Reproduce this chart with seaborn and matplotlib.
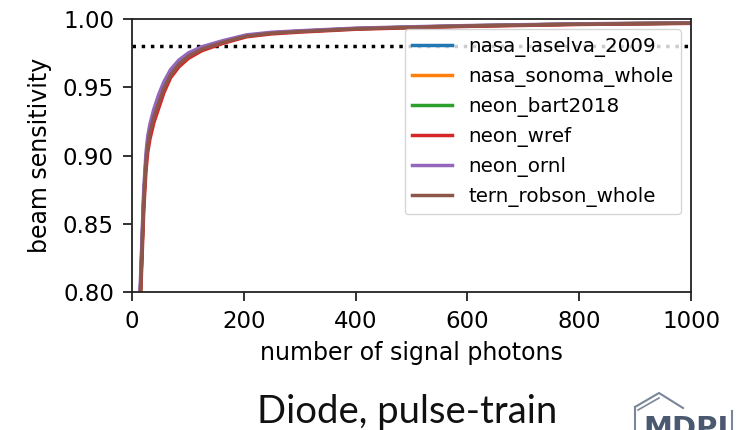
import numpy as np
import pandas as pd
import matplotlib
matplotlib.use("Agg")
import matplotlib.pyplot as plt
import seaborn as sns
from matplotlib.lines import Line2D

# ---- data ----
photons = [12, 15, 18, 21, 25, 28, 32, 39, 48, 57, 69, 84, 101, 125, 163, 205, 250,
           300, 400, 500, 600, 800, 1000]

nasa_laselva_2009 = [0.780, 0.801, 0.835, 0.869, 0.897, 0.909, 0.919, 0.930, 0.941, 0.951, 0.961,
                     0.968, 0.9736, 0.9785, 0.9834, 0.9878, 0.9898, 0.9910, 0.9930, 0.9940,
                     0.9950, 0.9963, 0.9970]
nasa_sonoma_whole = [0.781, 0.802, 0.836, 0.870, 0.897, 0.909, 0.919, 0.930, 0.941, 0.951, 0.961,
                     0.968, 0.9737, 0.9786, 0.9835, 0.9878, 0.9898, 0.9911, 0.9930, 0.9941,
                     0.9950, 0.9963, 0.9971]
neon_bart2018 = [0.779, 0.800, 0.834, 0.868, 0.896, 0.908, 0.918, 0.929, 0.940, 0.950, 0.960,
                 0.968, 0.9734, 0.9783, 0.9833, 0.9877, 0.9897, 0.9910, 0.9929, 0.9940,
                 0.9949, 0.9963, 0.9970]
neon_wref = [0.772, 0.793, 0.826, 0.860, 0.889, 0.902, 0.912, 0.924, 0.935, 0.946, 0.957,
             0.965, 0.9712, 0.9768, 0.9822, 0.9870, 0.9891, 0.9904, 0.9925, 0.9936,
             0.9946, 0.9960, 0.9968]
neon_ornl = [0.786, 0.808, 0.842, 0.876, 0.902, 0.914, 0.923, 0.934, 0.945, 0.954, 0.963,
             0.970, 0.9752, 0.9797, 0.9842, 0.9884, 0.9903, 0.9914, 0.9933, 0.9943,
             0.9952, 0.9965, 0.9972]
tern_robson_whole = [0.778, 0.799, 0.833, 0.867, 0.895, 0.907, 0.917, 0.928, 0.939, 0.949, 0.959,
                     0.967, 0.9728, 0.9779, 0.9830, 0.9875, 0.9896, 0.9908, 0.9928, 0.9939,
                     0.9949, 0.9962, 0.9970]

site_names = ["nasa_laselva_2009", "nasa_sonoma_whole", "neon_bart2018",
              "neon_wref", "neon_ornl", "tern_robson_whole"]
site_values = [nasa_laselva_2009, nasa_sonoma_whole, neon_bart2018,
               neon_wref, neon_ornl, tern_robson_whole]

threshold = 0.98
x_ticks = [0, 200, 400, 600, 800, 1000]
y_ticks = [0.80, 0.85, 0.90, 0.95, 1.00]
x_label = "number of signal photons"
y_label = "beam sensitivity"
caption = "Diode, pulse-train"

# ---- long-form table ----
rows = []
for name, vals in zip(site_names, site_values):
    for p, v in zip(photons, vals):
        rows.append({"photons": p, "sensitivity": v, "site": name})
df = pd.DataFrame(rows)

# ---- figure ----
fig = plt.figure(figsize=(7.38, 4.30), dpi=100)
ax = fig.add_axes([0.1789, 0.3209, 0.7575, 0.6349])

palette = sns.color_palette("tab10", 6)
sns.lineplot(data=df, x="photons", y="sensitivity", hue="site",
             hue_order=site_names, palette=palette, linewidth=2.5,
             ax=ax, legend=False, estimator=None, sort=True)

ax.plot([0, 1000], [threshold, threshold], color="black", linestyle=":",
        linewidth=2.5, zorder=1)

ax.set_xlim(0, 1000)
ax.set_ylim(0.80, 1.00)
ax.set_xticks(x_ticks)
ax.set_xticklabels([str(t) for t in x_ticks])
ax.set_yticks(y_ticks)
ax.set_yticklabels([f"{t:.2f}" for t in y_ticks])
ax.tick_params(labelsize=16.5, length=6.5, width=1.3, pad=6.5, color="#222222")
for sp in ax.spines.values():
    sp.set_linewidth(1.3)
    sp.set_color("#222222")
ax.set_xlabel(x_label, fontsize=17, labelpad=6)
ax.set_ylabel(y_label, fontsize=17, labelpad=8)

handles = [Line2D([0], [0], color=c, linewidth=2.5) for c in palette]
ax.legend(handles, site_names, loc="upper right", fontsize=14.3)

# caption
fig.text(0.552, 0.016, caption, ha="center", va="baseline",
         fontsize=27.5, family="Lato", color="#111111")

# MDPI logo (approximation)
logo_col = "#4a5870"
W, H = 738.0, 430.0
def fx(px):
    return px / W
def fy(py):
    return 1 - py / H
fig.add_artist(Line2D([fx(635), fx(659), fx(683)], [fy(407), fy(393), fy(408)],
                      color="#7a869a", linewidth=1.5, transform=fig.transFigure))
fig.add_artist(Line2D([fx(638), fx(659)], [fy(410), fy(398)],
                      color="#7a869a", linewidth=1.2, transform=fig.transFigure))
fig.add_artist(Line2D([fx(635), fx(635)], [fy(407), fy(432)],
                      color="#7a869a", linewidth=1.5, transform=fig.transFigure))
fig.add_artist(Line2D([fx(732), fx(732)], [fy(411), fy(432)],
                      color="#7a869a", linewidth=1.5, transform=fig.transFigure))
fig.text(fx(643), fy(437), "MDPI", ha="left", va="baseline", fontsize=21,
         fontweight="bold", color=logo_col)

fig.savefig("out.png", dpi=100)
